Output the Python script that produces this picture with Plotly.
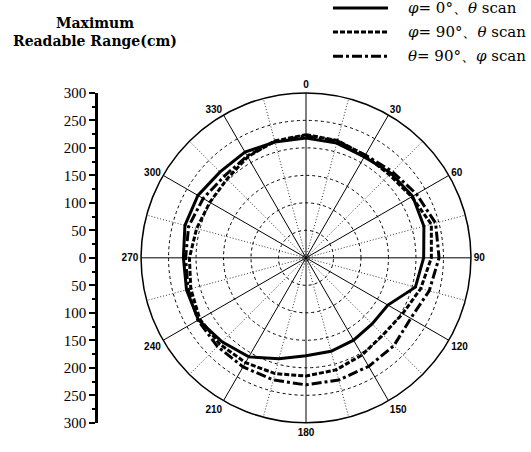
import plotly.graph_objects as go

# ---------------- data ----------------
angles = [0, 15, 30, 45, 60, 75, 90, 105, 120, 135, 150, 165, 180,
          195, 210, 225, 240, 255, 270, 285, 300, 315, 330, 345, 360]

phi0_theta_scan = [218, 216, 212, 218, 224, 222, 214, 206, 172, 170, 173, 176, 178,
                   190, 208, 216, 226, 225, 223, 228, 227, 221, 222, 218, 218]

phi90_theta_scan = [224, 221, 215, 214, 222, 236, 228, 216, 203, 198, 204, 211, 215,
                    218, 220, 222, 223, 217, 212, 206, 202, 203, 212, 220, 224]

theta90_phi_scan = [222, 220, 216, 222, 232, 244, 242, 232, 220, 226, 228, 230, 231,
                    230, 229, 228, 227, 222, 219, 221, 216, 210, 214, 219, 222]

series_names = ["<i>φ</i>= 0°、<i>θ</i> scan",
                "<i>φ</i>= 90°、<i>θ</i> scan",
                "<i>θ</i>= 90°、<i>φ</i> scan"]

angular_ticks = [0, 30, 60, 90, 120, 150, 180, 210, 240, 270, 300, 330]
minor_spokes = [15, 45, 75, 105, 135, 165, 195, 225, 255, 285, 315, 345]
radial_max = 300
left_tickvals = [-300, -250, -200, -150, -100, -50, 0, 50, 100, 150, 200, 250, 300]
left_ticktext = [str(abs(v)) for v in left_tickvals]

# ---------------- styles ----------------
W, H = 531, 452
cx, cy, R = 306, 259, 171
dashes = ["solid", "5px,2px", "10px,3px,3px,3px"]

fig = go.Figure()

# dotted minor spokes (grid decoration)
for a in minor_spokes:
    fig.add_trace(go.Scatterpolar(r=[0, radial_max], theta=[a, a], mode="lines",
                                  line=dict(color="black", width=0.8, dash="1px,2px"),
                                  showlegend=False, hoverinfo="skip"))

for vals, dash in zip([phi0_theta_scan, phi90_theta_scan, theta90_phi_scan], dashes):
    fig.add_trace(go.Scatterpolar(r=vals, theta=angles, mode="lines",
                                  line=dict(color="black", width=3, dash=dash),
                                  showlegend=False))

# dummy trace for the left linear axis
fig.add_trace(go.Scatter(x=[0], y=[0], mode="markers", marker=dict(opacity=0),
                         showlegend=False, hoverinfo="skip", xaxis="x", yaxis="y"))

xd = [(cx - R) / W, (cx + R) / W]
yd = [(H - cy - R) / H, (H - cy + R) / H]

fig.update_layout(
    width=W, height=H,
    margin=dict(l=0, r=0, t=0, b=0),
    paper_bgcolor="white", plot_bgcolor="white",
    polar=dict(
        domain=dict(x=xd, y=yd),
        bgcolor="white",
        angularaxis=dict(rotation=90, direction="clockwise",
                         tickmode="array", tickvals=angular_ticks,
                         ticktext=[str(t) for t in angular_ticks],
                         showgrid=True, gridcolor="black", gridwidth=1.3,
                         showline=True, linecolor="black", linewidth=1.5,
                         ticks="", tickfont=dict(family="Liberation Sans", size=10,
                                                color="black", weight="bold")),
        radialaxis=dict(range=[0, radial_max], tickmode="linear", tick0=0, dtick=50,
                        showticklabels=False, ticks="", showline=False,
                        showgrid=True, gridcolor="black", gridwidth=1.3,
                        griddash="3px,3px"),
    ),
    xaxis=dict(visible=False, domain=[0.17, 0.18], range=[-1, 1], fixedrange=True),
    yaxis=dict(domain=yd, range=[-300, 300], anchor="free", position=96 / W,
               side="left", tickmode="array", tickvals=left_tickvals,
               ticktext=left_ticktext, ticks="outside", ticklen=6, tickwidth=2,
               tickcolor="black", showline=True, linecolor="black", linewidth=2.5,
               showgrid=False, zeroline=False,
               tickfont=dict(family="Liberation Serif", size=15, color="black"),
               minor=dict(tickmode="linear", tick0=0, dtick=25, ticks="outside",
                          ticklen=3, tickwidth=1.5, tickcolor="black")),
    font=dict(family="Liberation Serif", color="black"),
)

# title at top-left
for txt, ty in [("<b>Maximum</b>", 16), ("<b>Readable Range(cm)</b>", 34)]:
    fig.add_annotation(x=95 / W, y=1 - ty / H, xref="paper", yref="paper",
                       xanchor="center", yanchor="middle", showarrow=False,
                       text=txt,
                       font=dict(family="DejaVu Serif", size=14, color="black"))

# manual legend
legend_y = [0, 25, 50]
for name, dash, ly in zip(series_names, dashes, legend_y):
    yy = 1 - ly / H
    fig.add_shape(type="line", xref="paper", yref="paper",
                  x0=333 / W, x1=388 / W, y0=yy, y1=yy,
                  line=dict(color="black", width=3, dash=dash))
    fig.add_annotation(x=406 / W, y=yy, xref="paper", yref="paper",
                       xanchor="left", yanchor="middle", showarrow=False,
                       text=name, font=dict(family="DejaVu Serif", size=15,
                                            color="black"))

fig.write_html("out.html")
